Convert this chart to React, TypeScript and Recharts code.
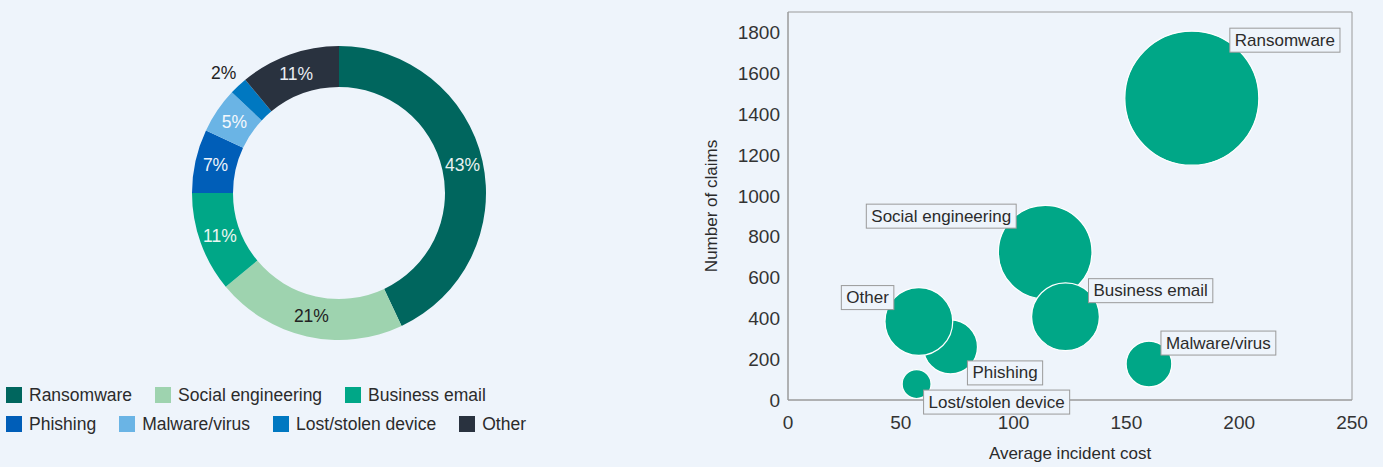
import React from 'react';
import {
  PieChart,
  Pie,
  Cell,
  Legend,
  ScatterChart,
  Scatter,
  XAxis,
  YAxis,
  ZAxis,
  ReferenceArea,
} from 'recharts';

// ---------- data ----------
const categories = [
  'Ransomware',
  'Social engineering',
  'Business email',
  'Phishing',
  'Malware/virus',
  'Lost/stolen device',
  'Other',
];
const sharePct = [43, 21, 11, 7, 5, 2, 11];
const avgCost = [179, 114, 123, 72, 160, 57, 58];
const claimCount = [1478, 724, 408, 260, 176, 78, 384];
const xTicks = [0, 50, 100, 150, 200, 250];
const yTicks = [0, 200, 400, 600, 800, 1000, 1200, 1400, 1600, 1800];

// ---------- styles ----------
const BG = '#EEF4FB';
const FONT = '"Liberation Sans", Arial, Helvetica, sans-serif';
const TEXT = '#2b2b2b';
const sliceColors = ['#00665E', '#9ED3AF', '#00A787', '#005EB8', '#6AB4E5', '#0078C1', '#29323F'];
const pieLabelColors = ['#EAF3F1', '#222222', '#EAF6F2', '#EEF4FB', '#F4F8FC', '#222222', '#E8ECF2'];
const BUBBLE = '#00A787';
const AXIS = '#9a9a9a';
// label box placement relative to bubble centre: [dx, dy, anchor]
const labelPlacement: [number, number, 'start' | 'end'][] = [
  [38, -70, 'start'],
  [-29, -48, 'end'],
  [23, -38, 'start'],
  [17, 14, 'start'],
  [12, -33, 'start'],
  [7, 6, 'start'],
  [-25, -36, 'end'],
];

const pieData = categories.map((name, i) => ({ name, value: sharePct[i] }));
const bubbleData = categories.map((name, i) => ({
  name,
  x: avgCost[i],
  y: claimCount[i],
  z: sharePct[i],
}));

const MAX_R = 67;

let measureCtx: CanvasRenderingContext2D | null = null;
function measure(text: string, size: number): number {
  try {
    if (!measureCtx) measureCtx = document.createElement('canvas').getContext('2d');
    if (measureCtx) {
      measureCtx.font = `${size}px "Liberation Sans", Arial, sans-serif`;
      return measureCtx.measureText(text).width;
    }
  } catch (e) {}
  return text.length * size * 0.52;
}

const RAD = Math.PI / 180;

function PieLabel(props: any) {
  const { cx, cy, midAngle, innerRadius, outerRadius, index } = props;
  const v = sharePct[index];
  const outside = v < 3;
  const r = outside ? outerRadius + 17 : (innerRadius + outerRadius) / 2;
  const x = cx + r * Math.cos(-midAngle * RAD) + (outside ? -3 : 0);
  const y = cy + r * Math.sin(-midAngle * RAD);
  return (
    <text
      x={x}
      y={y}
      textAnchor="middle"
      dominantBaseline="central"
      fontSize={17.5}
      fontFamily={FONT}
      fill={pieLabelColors[index]}
    >
      {`${v}%`}
    </text>
  );
}

function LegendContent() {
  const rows = [[0, 1, 2], [3, 4, 5, 6]];
  return (
    <div style={{ fontFamily: FONT, fontSize: 17.5, color: TEXT, paddingLeft: 6 }}>
      {rows.map((row, ri) => (
        <div key={ri} style={{ display: 'flex', alignItems: 'center', height: 29 }}>
          {row.map((i) => (
            <div key={i} style={{ display: 'flex', alignItems: 'center', marginRight: 23 }}>
              <span
                style={{
                  display: 'inline-block',
                  width: 16,
                  height: 16,
                  background: sliceColors[i],
                  marginRight: 7,
                }}
              />
              <span style={{ whiteSpace: 'nowrap' }}>{categories[i]}</span>
            </div>
          ))}
        </div>
      ))}
    </div>
  );
}

function LabelBox(props: any) {
  const { cx, cy, payload } = props;
  const i = categories.indexOf(payload.name);
  if (i < 0 || cx == null || cy == null) return <g />;
  const [dx, dy, anchor] = labelPlacement[i];
  const tw = measure(payload.name, 17);
  const w = tw + 10;
  const h = 24;
  const left = anchor === 'start' ? cx + dx : cx + dx - w;
  const top = cy + dy;
  return (
    <g>
      <rect x={left} y={top} width={w} height={h} fill={BG} stroke={AXIS} strokeWidth={1} />
      <text
        x={left + 5}
        y={top + h / 2}
        dominantBaseline="central"
        fontSize={17}
        fontFamily={FONT}
        fill={TEXT}
      >
        {payload.name}
      </text>
    </g>
  );
}

function XTitle(props: any) {
  const vb = props.viewBox || {};
  return (
    <text
      x={vb.x + vb.width / 2}
      y={vb.y + 53}
      textAnchor="middle"
      dominantBaseline="central"
      fontSize={17}
      fontFamily={FONT}
      fill={TEXT}
    >
      Average incident cost
    </text>
  );
}

function YTitle(props: any) {
  const vb = props.viewBox || {};
  const x = vb.x - 17;
  const y = vb.y + vb.height / 2;
  return (
    <text
      x={x}
      y={y}
      transform={`rotate(-90 ${x} ${y})`}
      textAnchor="middle"
      dominantBaseline="central"
      fontSize={17}
      fontFamily={FONT}
      fill={TEXT}
    >
      Number of claims
    </text>
  );
}

export default function App() {
  const tickStyle = { fontSize: 19, fontFamily: FONT, fill: '#333' };
  return (
    <div
      style={{
        position: 'absolute',
        left: 0,
        top: 0,
        width: 1383,
        height: 467,
        background: BG,
        fontFamily: FONT,
        overflow: 'hidden',
      }}
    >
      <div style={{ position: 'absolute', left: 0, top: 0 }}>
        <PieChart width={690} height={467} margin={{ top: 0, right: 0, bottom: 0, left: 0 }}>
          <Pie
            data={pieData}
            dataKey="value"
            nameKey="name"
            cx={339}
            cy={193}
            innerRadius={106}
            outerRadius={147}
            startAngle={90}
            endAngle={-270}
            stroke="none"
            label={PieLabel}
            labelLine={false}
            isAnimationActive={false}
          >
            {pieData.map((d, i) => (
              <Cell key={d.name} fill={sliceColors[i]} />
            ))}
          </Pie>
          <Legend
            content={LegendContent}
            wrapperStyle={{ position: 'absolute', left: 0, top: 380.5, width: 620, height: 60 }}
          />
        </PieChart>
      </div>
      <div style={{ position: 'absolute', left: 690, top: 0 }}>
        <ScatterChart width={693} height={467} margin={{ top: 12, right: 31, bottom: 17, left: 38 }}>
          <XAxis
            type="number"
            dataKey="x"
            domain={[0, 250]}
            ticks={xTicks}
            tickLine={false}
            tickMargin={10}
            axisLine={{ stroke: AXIS }}
            tick={tickStyle}
            height={50}
            label={XTitle}
          />
          <YAxis
            type="number"
            dataKey="y"
            domain={[0, 1900]}
            ticks={yTicks}
            tickLine={false}
            axisLine={{ stroke: AXIS }}
            tick={tickStyle}
            width={60}
            label={YTitle}
          />
          <ZAxis type="number" dataKey="z" domain={[0, 43]} range={[0, Math.PI * MAX_R * MAX_R]} />
          <ReferenceArea x1={0} x2={250} y1={0} y2={1900} fill="none" stroke={AXIS} strokeWidth={1} />
          <Scatter
            data={bubbleData}
            fill={BUBBLE}
            stroke="#ffffff"
            strokeWidth={1.2}
            isAnimationActive={false}
          />
          <Scatter data={bubbleData} shape={LabelBox} isAnimationActive={false} />
        </ScatterChart>
      </div>
    </div>
  );
}
